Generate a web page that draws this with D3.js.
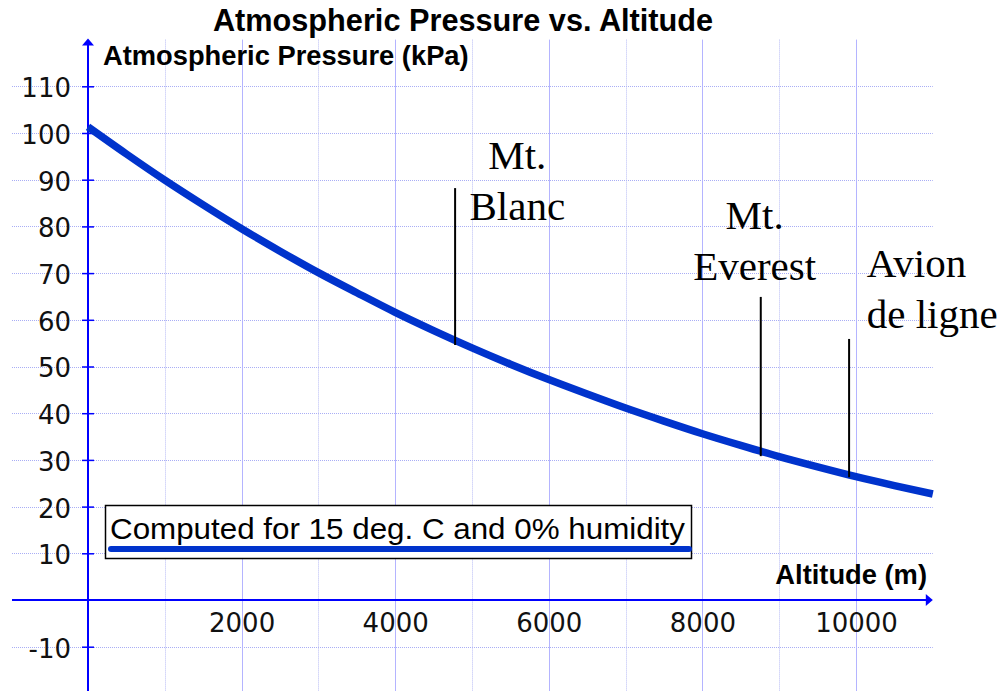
<!DOCTYPE html>
<html lang="en">
<head>
    <meta charset="utf-8" />
    <script src="https://d3js.org/d3.v7.min.js"></script>
    <title>Atmospheric Pressure vs. Altitude</title>
    <style>
        body { margin: 0; background: #fff; }
        svg { display: block; }
    </style>
</head>
<body>
    <div id="chart"></div>
    <script>
        // altitude (m) and pressure (kPa)
        var altitude = [0, 500, 1000, 1500, 2000, 2500, 3000, 3500, 4000, 4500, 5000, 5500,
            6000, 6500, 7000, 7500, 8000, 8500, 9000, 9500, 10000, 10500, 11000];
        var pressure = [101.3, 95.5, 89.9, 84.6, 79.5, 74.7, 70.1, 65.8, 61.6, 57.7, 54.0, 50.5,
            47.2, 44.1, 41.1, 38.3, 35.6, 33.1, 30.7, 28.5, 26.4, 24.5, 22.7];

        var xTicks = [2000, 4000, 6000, 8000, 10000];
        var yTicks = [-10, 10, 20, 30, 40, 50, 60, 70, 80, 90, 100, 110];

        // marker lines: name lines, altitude, top and bottom (kPa)
        var markerNames = [["Mt.", "Blanc"], ["Mt.", "Everest"], ["Avion", "de ligne"]];
        var markerAlt = [4780, 8760, 9910];
        var markerTop = [88.2, 64.9, 55.9];
        var markerBottom = [54.6, 30.8, 26.3];
        // where the label text sits (altitude, kPa of first baseline)
        var labelAlt = [5590, 8680, 10140];
        var labelKpa = [92.3, 79.4, 69.2];
        var labelAnchor = ["middle", "middle", "start"];

        var W = 1006, H = 691;

        var svg = d3.select("#chart").append("svg")
            .attr("width", W)
            .attr("height", H);

        svg.append("rect").attr("width", W).attr("height", H).attr("fill", "#fff");

        var x = d3.scaleLinear().domain([0, 10000]).range([88, 856]);
        var y = d3.scaleLinear().domain([0, 100]).range([600, 133]);

        // plot edges (note: "top" is reserved on window)
        var gLeft = 12, gRight = x(11000), gTop = y(120);

        // grid
        var grid = svg.append("g");
        d3.range(-10, 120, 10).filter(function(v) { return v !== 0; }).forEach(function(v) {
            grid.append("line")
                .attr("x1", gLeft).attr("x2", gRight)
                .attr("y1", Math.round(y(v)) + 0.5).attr("y2", Math.round(y(v)) + 0.5)
                .attr("stroke", "#a9aef5")
                .attr("stroke-width", 1)
                .attr("stroke-dasharray", "1,1");
        });
        d3.range(1000, 10001, 1000).forEach(function(v) {
            var major = v % 2000 === 0;
            grid.append("line")
                .attr("x1", Math.round(x(v)) + 0.5).attr("x2", Math.round(x(v)) + 0.5)
                .attr("y1", gTop).attr("y2", H)
                .attr("stroke", major ? "#b4b4ff" : "#b8bcf5")
                .attr("stroke-width", 1)
                .attr("stroke-dasharray", major ? null : "1,1");
        });

        // axes
        var axisColor = "#0000ff";
        svg.append("line")
            .attr("x1", gLeft).attr("x2", gRight - 4)
            .attr("y1", y(0)).attr("y2", y(0))
            .attr("stroke", axisColor).attr("stroke-width", 2);
        svg.append("path")
            .attr("d", "M" + gRight + "," + y(0) + "l-7,-6l0,12z")
            .attr("fill", axisColor);
        svg.append("line")
            .attr("x1", x(0)).attr("x2", x(0))
            .attr("y1", gTop + 4).attr("y2", H)
            .attr("stroke", axisColor).attr("stroke-width", 2);
        svg.append("path")
            .attr("d", "M" + x(0) + "," + (gTop - 1) + "l-6,7l12,0z")
            .attr("fill", axisColor);

        var yAxis = svg.append("g")
            .attr("transform", "translate(" + x(0) + ",0)")
            .call(d3.axisLeft(y).tickValues(yTicks).tickSize(6).tickPadding(11)
                .tickFormat(function(d) { return String(d); }));
        yAxis.select(".domain").remove();
        yAxis.selectAll(".tick line")
            .attr("x1", -6).attr("x2", 6)
            .attr("stroke", axisColor).attr("stroke-width", 1.5);
        yAxis.selectAll(".tick text")
            .attr("fill", "#111")
            .attr("dy", "0.4em")
            .style("font-family", "'DejaVu Sans', sans-serif")
            .style("font-size", "26px");

        var xAxis = svg.append("g")
            .attr("transform", "translate(0," + y(0) + ")")
            .call(d3.axisBottom(x).tickValues(xTicks).tickSize(0)
                .tickFormat(function(d) { return String(d); }));
        xAxis.select(".domain").remove();
        xAxis.selectAll(".tick text")
            .attr("y", 32).attr("dy", 0)
            .attr("fill", "#111")
            .style("font-family", "'DejaVu Sans', sans-serif")
            .style("font-size", "26px");

        // axis titles
        svg.append("text")
            .attr("x", 103).attr("y", 65)
            .style("font-family", "'Liberation Sans', Arial, sans-serif")
            .style("font-weight", "bold")
            .style("font-size", "27.3px")
            .text("Atmospheric Pressure (kPa)");
        svg.append("text")
            .attr("x", 927).attr("y", 584)
            .attr("text-anchor", "end")
            .style("font-family", "'Liberation Sans', Arial, sans-serif")
            .style("font-weight", "bold")
            .style("font-size", "27.3px")
            .text("Altitude (m)");

        // title
        svg.append("text")
            .attr("x", 463).attr("y", 31)
            .attr("text-anchor", "middle")
            .style("font-family", "'Liberation Sans', Arial, sans-serif")
            .style("font-weight", "bold")
            .style("font-size", "30.7px")
            .text("Atmospheric Pressure vs. Altitude");

        // curve
        var line = d3.line()
            .x(function(d, i) { return x(altitude[i]); })
            .y(function(d) { return y(d); })
            .curve(d3.curveMonotoneX);

        svg.append("path")
            .datum(pressure)
            .attr("d", line)
            .attr("fill", "none")
            .attr("stroke", "#0033cc")
            .attr("stroke-width", 7.5);

        // markers
        markerAlt.forEach(function(a, i) {
            svg.append("line")
                .attr("x1", x(a)).attr("x2", x(a))
                .attr("y1", y(markerTop[i])).attr("y2", y(markerBottom[i]))
                .attr("stroke", "#000").attr("stroke-width", 2);

            var t = svg.append("text")
                .attr("text-anchor", labelAnchor[i])
                .style("font-family", "'Liberation Serif', 'Times New Roman', serif")
                .style("font-size", "41px");
            markerNames[i].forEach(function(s, k) {
                t.append("tspan")
                    .attr("x", x(labelAlt[i]))
                    .attr("y", y(labelKpa[i]) + k * 51)
                    .text(s);
            });
        });

        // legend
        var lg = svg.append("g");
        lg.append("rect")
            .attr("x", 105.5).attr("y", 505.5)
            .attr("width", 586).attr("height", 53)
            .attr("fill", "#fff")
            .attr("stroke", "#000").attr("stroke-width", 1.5);
        lg.append("text")
            .attr("x", 110).attr("y", 539)
            .attr("textLength", 575)
            .attr("lengthAdjust", "spacingAndGlyphs")
            .style("font-family", "'Liberation Sans', Arial, sans-serif")
            .style("font-size", "30px")
            .text("Computed for 15 deg. C and 0% humidity");
        lg.append("line")
            .attr("x1", 111).attr("x2", 689)
            .attr("y1", 549).attr("y2", 549)
            .attr("stroke", "#0033cc")
            .attr("stroke-width", 6)
            .attr("stroke-linecap", "round");
    </script>
</body>
</html>
